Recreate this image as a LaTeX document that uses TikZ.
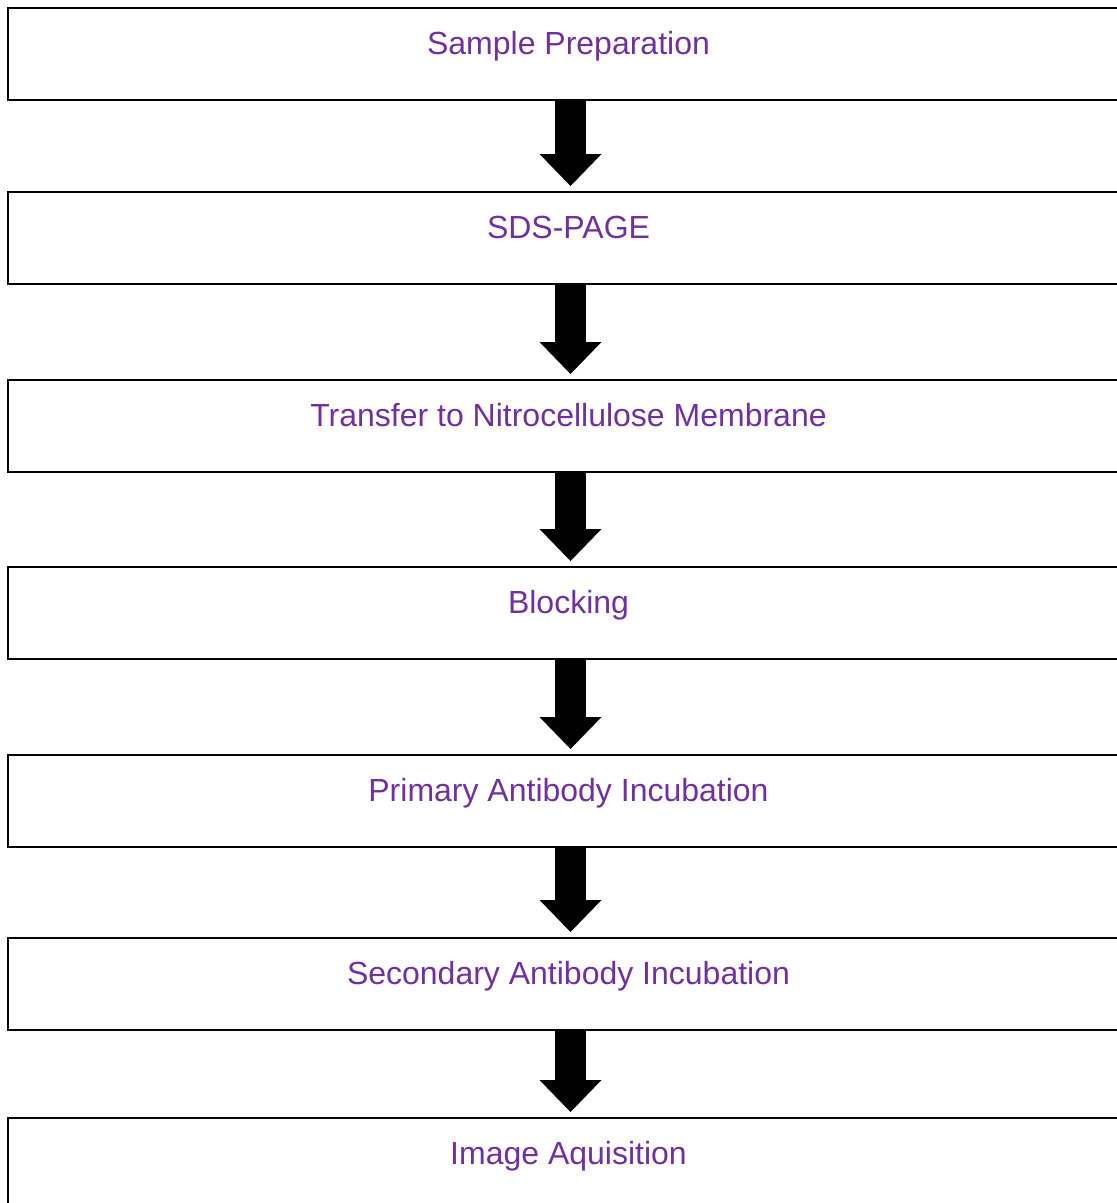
\documentclass[tikz,border=0pt]{standalone}
\usepackage{fontspec}
\setmainfont{Liberation Sans}
\usetikzlibrary{arrows.meta}
\definecolor{steppurple}{HTML}{7030A0}
\begin{document}
\begin{tikzpicture}[x=1pt,y=-1pt,
  stepbox/.style={draw=black, line width=2.2pt, minimum width=1120pt, minimum height=92pt, inner sep=0pt, outer sep=0pt},
  steptext/.style={text=steppurple, font=\fontsize{32}{38}\selectfont, anchor=base, inner sep=0pt},
  flowarrow/.style={line width=31pt, -{Triangle[width=62pt,length=32pt,line width=0pt]}}]
\useasboundingbox (0,0) rectangle (1117,1203);
\clip (0,0) rectangle (1117,1203);
\foreach \i/\t/\txt in {1/8/Sample Preparation, 2/192/SDS-PAGE, 3/380/Transfer to Nitrocellulose Membrane, 4/567/Blocking, 5/755/Primary Antibody Incubation, 6/938/Secondary Antibody Incubation, 7/1118/Image Aquisition}{
  \node[stepbox] (b\i) at (568,\t+46) {};
  \node[steptext] (t\i) at (568.5,\t+46) {\txt};
}
\foreach \a/\b in {1/2,2/3,3/4,4/5,5/6,6/7}{
  \draw[flowarrow] ([xshift=2.5pt]b\a.south) -- ([xshift=2.5pt,yshift=6pt]b\b.north);
}
\end{tikzpicture}
\end{document}
